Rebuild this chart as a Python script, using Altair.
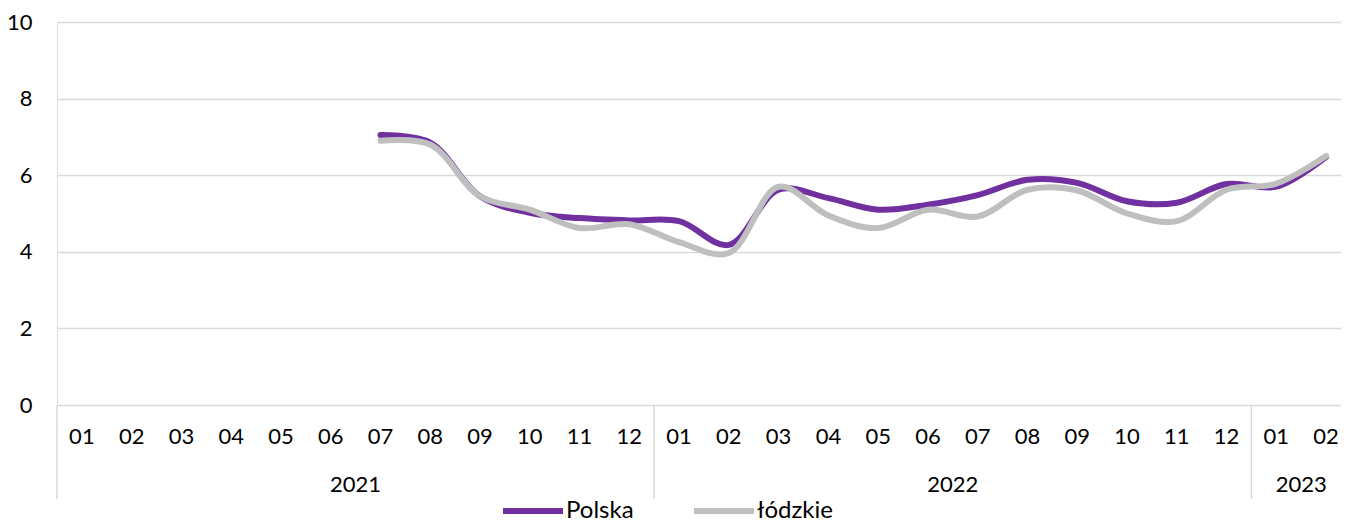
import altair as alt
import pandas as pd

# ---- data ----
months = ["01", "02", "03", "04", "05", "06", "07", "08", "09", "10", "11", "12",
          "01", "02", "03", "04", "05", "06", "07", "08", "09", "10", "11", "12",
          "01", "02"]
years = ["2021", "2022", "2023"]
year_center = [5.5, 17.5, 24.5]
year_bounds = [-0.5, 11.5, 23.5]

polska = [None, None, None, None, None, None,
          7.05, 6.85, 5.45, 5.02, 4.88, 4.82,
          4.80, 4.18, 5.62, 5.40, 5.10, 5.23, 5.48, 5.88, 5.80, 5.32, 5.28, 5.77,
          5.70, 6.48]
lodzkie = [None, None, None, None, None, None,
           6.90, 6.80, 5.45, 5.10, 4.62, 4.72,
           4.25, 3.97, 5.70, 4.95, 4.62, 5.10, 4.92, 5.62, 5.60, 5.00, 4.80, 5.62,
           5.78, 6.50]

series_names = ["Polska", "łódzkie"]
series_colors = ["#7030A0", "#BFBFBF"]

FONT = "Lato"

rows = []
for name, vals in zip(series_names, [polska, lodzkie]):
    for i, v in enumerate(vals):
        if v is not None:
            rows.append({"idx": i, "value": v, "series": name})
df = pd.DataFrame(rows)

df_months = pd.DataFrame({"idx": list(range(len(months))), "month": months})
df_years = pd.DataFrame({"pos": year_center, "year": years})
df_bounds = pd.DataFrame({"pos": year_bounds})

xscale = alt.Scale(domain=[-0.5, 25.3], nice=False, zero=False)
yscale = alt.Scale(domain=[0, 10], nice=False)

color = alt.Color(
    "series:N",
    scale=alt.Scale(domain=series_names, range=series_colors),
    legend=alt.Legend(
        title=None,
        orient="none",
        legendX=443,
        legendY=456,
        direction="horizontal",
        symbolType="stroke",
        symbolSize=3600,
        symbolStrokeWidth=6,
        labelFontSize=24,
        labelFont=FONT,
        labelColor="#000000",
        labelOffset=0,
        columnPadding=48,
    ),
)

base_y = alt.Y(
    "value:Q",
    scale=yscale,
    axis=alt.Axis(
        values=[0, 2, 4, 6, 8, 10],
        title=None,
        domain=False,
        ticks=False,
        grid=True,
        gridColor="#D9D9D9",
        gridWidth=1.5,
        labelFontSize=22,
        labelFont=FONT,
        labelColor="#000000",
        labelPadding=25,
    ),
)

line_p = alt.Chart(df).transform_filter(alt.datum.series == "Polska").mark_line(
    strokeWidth=6, strokeCap="round", interpolate="catmull-rom"
).encode(
    x=alt.X("idx:Q", scale=xscale, axis=None),
    y=base_y,
    color=color,
)

line_l = alt.Chart(df).transform_filter(alt.datum.series == "łódzkie").mark_line(
    strokeWidth=6, strokeCap="round", interpolate="catmull-rom"
).encode(
    x=alt.X("idx:Q", scale=xscale, axis=None),
    y=alt.Y("value:Q", scale=yscale),
    color=color,
)

month_text = alt.Chart(df_months).mark_text(
    fontSize=22, font=FONT, color="#000000", baseline="middle", align="center"
).encode(
    x=alt.X("idx:Q", scale=xscale, axis=None),
    y=alt.value(415),
    text="month:N",
)

year_text = alt.Chart(df_years).mark_text(
    fontSize=22, font=FONT, color="#000000", baseline="middle", align="center"
).encode(
    x=alt.X("pos:Q", scale=xscale, axis=None),
    y=alt.value(463),
    text="year:N",
)

seps = alt.Chart(df_bounds).mark_rule(color="#D9D9D9", strokeWidth=1.5).encode(
    x=alt.X("pos:Q", scale=xscale, axis=None),
    y=alt.value(383),
    y2=alt.value(477),
)

chart = alt.layer(seps, month_text, year_text, line_p, line_l).properties(
    width=1284,
    height=383,
    autosize=alt.AutoSizeParams(type="none"),
    padding={"left": 49, "top": 14, "right": 0, "bottom": 118},
).configure_view(stroke=None).configure(background="white")

chart.save("out.html", embed_options={"renderer": "svg", "actions": False})
